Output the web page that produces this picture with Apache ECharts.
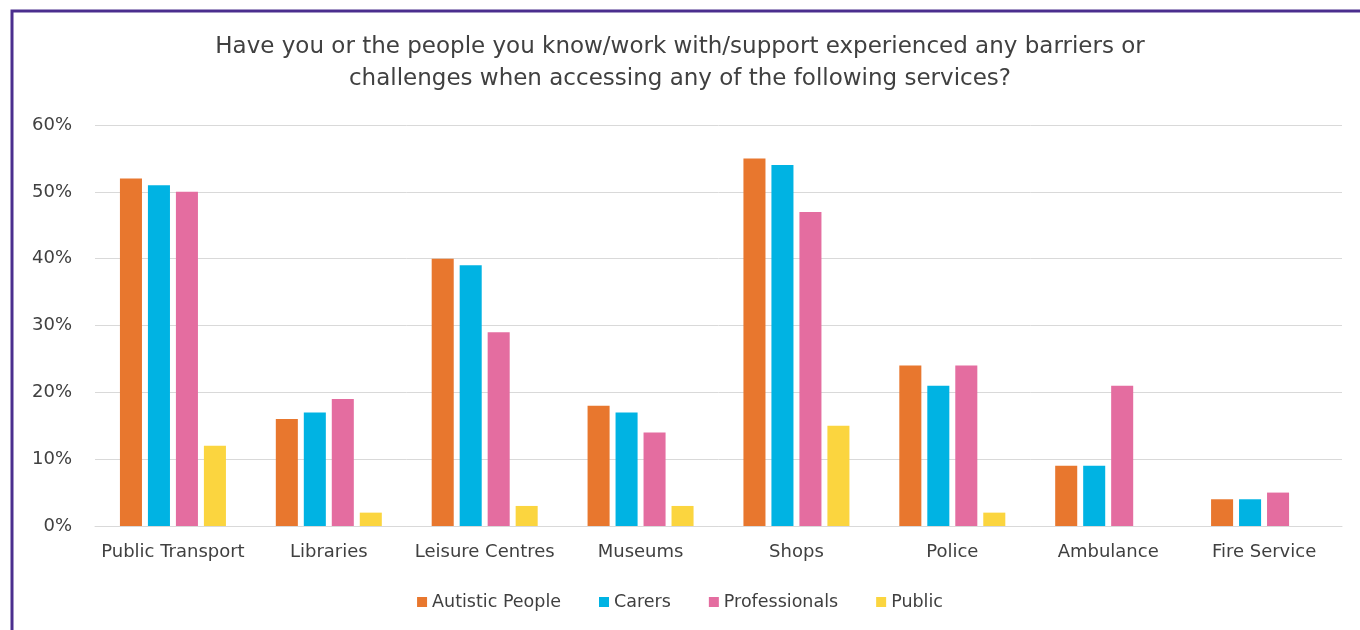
<!DOCTYPE html>
<html><head><meta charset="utf-8">
<script src="https://cdn.jsdelivr.net/npm/echarts@6/dist/echarts.min.js"></script>
<style>html,body{margin:0;padding:0;background:#fff}#c{width:1360px;height:630px}</style>
</head><body><div id="c"></div>
<script>
const titleText = 'Have you or the people you know/work with/support experienced any barriers or\nchallenges when accessing any of the following services?';
const categories = ['Public Transport','Libraries','Leisure Centres','Museums','Shops','Police','Ambulance','Fire Service'];
const seriesNames = ['Autistic People','Carers','Professionals','Public'];
const autistic = [52,16,40,18,55,24,9,4];
const carers = [51,17,39,17,54,21,9,4];
const professionals = [50,19,29,14,47,24,21,5];
const publicVals = [12,2,3,3,15,2,null,null];
const yTicks = [0,10,20,30,40,50,60];
const colors = ['#E8772E','#00B3E3','#E46DA0','#FBD53F'];
const font = 'DejaVu Sans';
const chart = echarts.init(document.getElementById('c'));
const vals = [autistic, carers, professionals, publicVals];
chart.setOption({
  animation:false,
  backgroundColor:'#fff',
  color: colors,
  title:{text:titleText,left:'center',top:26,textStyle:{fontFamily:font,fontSize:23,fontWeight:'normal',color:'#404040',lineHeight:32}},
  legend:{bottom:14,left:'center',itemWidth:10,itemHeight:10,itemGap:38,icon:'rect',textStyle:{fontFamily:font,fontSize:17.5,color:'#404040'},data:seriesNames},
  grid:{left:95,right:18,top:125,bottom:104,containLabel:false},
  xAxis:{type:'category',data:categories,axisTick:{show:false},axisLine:{lineStyle:{color:'#d9d9d9',width:1}},axisLabel:{interval:0,fontFamily:font,fontSize:18,color:'#404040',margin:17}},
  yAxis:{type:'value',min:yTicks[0],max:yTicks[yTicks.length-1],interval:10,axisLabel:{formatter:'{value}%',fontFamily:font,fontSize:18,color:'#404040',margin:23},splitLine:{lineStyle:{color:'#d9d9d9',width:1}},axisLine:{show:false},axisTick:{show:false}},
  series: seriesNames.map((n,i)=>({name:n,type:'bar',data:vals[i],barGap:'27%',barCategoryGap:'32%',itemStyle:{color:colors[i]}})),
  graphic:[{type:'rect',shape:{x:12,y:11,width:1400,height:700},style:{fill:'none',stroke:'#4B2E8E',lineWidth:3},silent:true}]
});
</script></body></html>
